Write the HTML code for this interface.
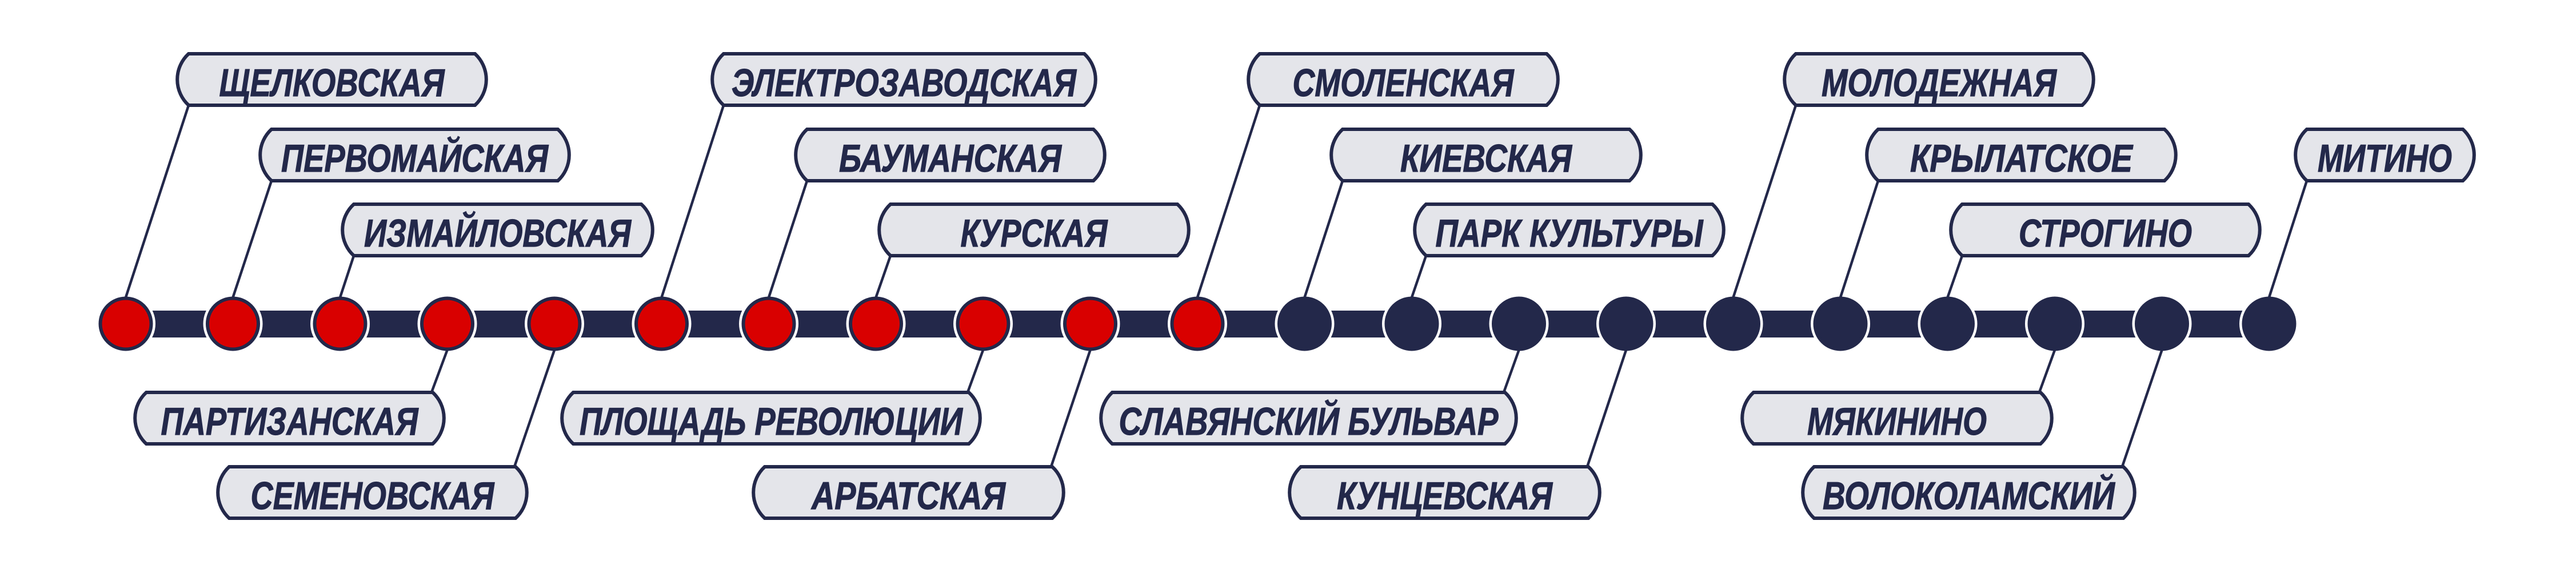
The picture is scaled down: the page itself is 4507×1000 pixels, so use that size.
<!DOCTYPE html>
<html><head><meta charset="utf-8"><style>
html,body{margin:0;padding:0;background:#fff;}
svg{display:block;}
text{font-family:"Liberation Sans",sans-serif;font-weight:bold;font-style:italic;font-size:68px;fill:#23284a;stroke:#23284a;stroke-width:1.2px;text-anchor:middle;}
</style></head><body>
<svg width="4507" height="1000" viewBox="0 0 4507 1000" xmlns="http://www.w3.org/2000/svg">
<rect x="220" y="543" width="3750" height="47" rx="4" fill="#23284a"/>
<g fill="#fff">
<circle cx="220" cy="566" r="52"/><circle cx="407.5" cy="566" r="52"/><circle cx="595" cy="566" r="52"/><circle cx="782.5" cy="566" r="52"/><circle cx="970" cy="566" r="52"/><circle cx="1157.5" cy="566" r="52"/><circle cx="1345" cy="566" r="52"/><circle cx="1532.5" cy="566" r="52"/><circle cx="1720" cy="566" r="52"/><circle cx="1907.5" cy="566" r="52"/><circle cx="2095" cy="566" r="52"/><circle cx="2282.5" cy="566" r="52"/><circle cx="2470" cy="566" r="52"/><circle cx="2657.5" cy="566" r="52"/><circle cx="2845" cy="566" r="52"/><circle cx="3032.5" cy="566" r="52"/><circle cx="3220" cy="566" r="52"/><circle cx="3407.5" cy="566" r="52"/><circle cx="3595" cy="566" r="52"/><circle cx="3782.5" cy="566" r="52"/><circle cx="3970" cy="566" r="52"/>
</g>
<g stroke="#23284a" stroke-width="4.5" fill="none">
<line x1="330" y1="184" x2="220" y2="520"/>
<line x1="475" y1="316" x2="407.5" y2="520"/>
<line x1="619" y1="447" x2="595" y2="520"/>
<line x1="782.5" y1="612" x2="755" y2="686"/>
<line x1="970" y1="612" x2="900" y2="816"/>
<line x1="1266" y1="184" x2="1157.5" y2="520"/>
<line x1="1412" y1="316" x2="1345" y2="520"/>
<line x1="1558" y1="447" x2="1532.5" y2="520"/>
<line x1="1720" y1="612" x2="1693" y2="686"/>
<line x1="1907.5" y1="612" x2="1839" y2="816"/>
<line x1="2204" y1="184" x2="2095" y2="520"/>
<line x1="2349" y1="316" x2="2282.5" y2="520"/>
<line x1="2495" y1="447" x2="2470" y2="520"/>
<line x1="2657.5" y1="612" x2="2631" y2="686"/>
<line x1="2845" y1="612" x2="2777" y2="816"/>
<line x1="3142" y1="184" x2="3032.5" y2="520"/>
<line x1="3286" y1="316" x2="3220" y2="520"/>
<line x1="3433" y1="447" x2="3407.5" y2="520"/>
<line x1="3595" y1="612" x2="3568" y2="686"/>
<line x1="3782.5" y1="612" x2="3713" y2="816"/>
<line x1="4036" y1="316" x2="3970" y2="520"/>
</g>
<g stroke="#23284a" stroke-width="6">
<g fill="#d90000">
<circle cx="220" cy="566" r="44.5"/><circle cx="407.5" cy="566" r="44.5"/><circle cx="595" cy="566" r="44.5"/><circle cx="782.5" cy="566" r="44.5"/><circle cx="970" cy="566" r="44.5"/><circle cx="1157.5" cy="566" r="44.5"/><circle cx="1345" cy="566" r="44.5"/><circle cx="1532.5" cy="566" r="44.5"/><circle cx="1720" cy="566" r="44.5"/><circle cx="1907.5" cy="566" r="44.5"/><circle cx="2095" cy="566" r="44.5"/>
</g>
<g fill="#23284a">
<circle cx="2282.5" cy="566" r="44.5"/><circle cx="2470" cy="566" r="44.5"/><circle cx="2657.5" cy="566" r="44.5"/><circle cx="2845" cy="566" r="44.5"/><circle cx="3032.5" cy="566" r="44.5"/><circle cx="3220" cy="566" r="44.5"/><circle cx="3407.5" cy="566" r="44.5"/><circle cx="3595" cy="566" r="44.5"/><circle cx="3782.5" cy="566" r="44.5"/><circle cx="3970" cy="566" r="44.5"/>
</g>
</g>
<g fill="#e4e5ea" stroke="#23284a" stroke-width="6">
<path d="M330 94H831A61 61 0 0 1 831 184H330A61 61 0 0 1 330 94Z"/>
<path d="M475 226H976A61 61 0 0 1 976 316H475A61 61 0 0 1 475 226Z"/>
<path d="M619 357H1122A61 61 0 0 1 1122 447H619A61 61 0 0 1 619 357Z"/>
<path d="M256 686H757A61 61 0 0 1 757 776H256A61 61 0 0 1 256 686Z"/>
<path d="M401 816H902A61 61 0 0 1 902 906H401A61 61 0 0 1 401 816Z"/>
<path d="M1266 94H1897A61 61 0 0 1 1897 184H1266A61 61 0 0 1 1266 94Z"/>
<path d="M1412 226H1913A61 61 0 0 1 1913 316H1412A61 61 0 0 1 1412 226Z"/>
<path d="M1558 357H2060A61 61 0 0 1 2060 447H1558A61 61 0 0 1 1558 357Z"/>
<path d="M1003 686H1695A61 61 0 0 1 1695 776H1003A61 61 0 0 1 1003 686Z"/>
<path d="M1338 816H1841A61 61 0 0 1 1841 906H1338A61 61 0 0 1 1338 816Z"/>
<path d="M2204 94H2706A61 61 0 0 1 2706 184H2204A61 61 0 0 1 2204 94Z"/>
<path d="M2349 226H2851A61 61 0 0 1 2851 316H2349A61 61 0 0 1 2349 226Z"/>
<path d="M2495 357H2996A61 61 0 0 1 2996 447H2495A61 61 0 0 1 2495 357Z"/>
<path d="M1946 686H2633A61 61 0 0 1 2633 776H1946A61 61 0 0 1 1946 686Z"/>
<path d="M2276 816H2779A61 61 0 0 1 2779 906H2276A61 61 0 0 1 2276 816Z"/>
<path d="M3142 94H3643A61 61 0 0 1 3643 184H3142A61 61 0 0 1 3142 94Z"/>
<path d="M3286 226H3787A61 61 0 0 1 3787 316H3286A61 61 0 0 1 3286 226Z"/>
<path d="M3433 357H3934A61 61 0 0 1 3934 447H3433A61 61 0 0 1 3433 357Z"/>
<path d="M3068 686H3570A61 61 0 0 1 3570 776H3068A61 61 0 0 1 3068 686Z"/>
<path d="M3174 816H3715A61 61 0 0 1 3715 906H3174A61 61 0 0 1 3174 816Z"/>
<path d="M4036 226H4309A61 61 0 0 1 4309 316H4036A61 61 0 0 1 4036 226Z"/>
</g>
<g>
<text x="580.5" y="168" textLength="394" lengthAdjust="spacingAndGlyphs">ЩЕЛКОВСКАЯ</text>
<text x="725.5" y="300" textLength="467" lengthAdjust="spacingAndGlyphs">ПЕРВОМАЙСКАЯ</text>
<text x="870.5" y="431" textLength="467" lengthAdjust="spacingAndGlyphs">ИЗМАЙЛОВСКАЯ</text>
<text x="506.5" y="760" textLength="450" lengthAdjust="spacingAndGlyphs">ПАРТИЗАНСКАЯ</text>
<text x="651.5" y="890" textLength="426" lengthAdjust="spacingAndGlyphs">СЕМЕНОВСКАЯ</text>
<text x="1581.5" y="168" textLength="603" lengthAdjust="spacingAndGlyphs">ЭЛЕКТРОЗАВОДСКАЯ</text>
<text x="1662.5" y="300" textLength="389" lengthAdjust="spacingAndGlyphs">БАУМАНСКАЯ</text>
<text x="1809" y="431" textLength="257" lengthAdjust="spacingAndGlyphs">КУРСКАЯ</text>
<text x="1349" y="760" textLength="670" lengthAdjust="spacingAndGlyphs">ПЛОЩАДЬ РЕВОЛЮЦИИ</text>
<text x="1589.5" y="890" textLength="339" lengthAdjust="spacingAndGlyphs">АРБАТСКАЯ</text>
<text x="2455" y="168" textLength="387" lengthAdjust="spacingAndGlyphs">СМОЛЕНСКАЯ</text>
<text x="2600" y="300" textLength="300" lengthAdjust="spacingAndGlyphs">КИЕВСКАЯ</text>
<text x="2745.5" y="431" textLength="468" lengthAdjust="spacingAndGlyphs">ПАРК КУЛЬТУРЫ</text>
<text x="2289.5" y="760" textLength="664" lengthAdjust="spacingAndGlyphs">СЛАВЯНСКИЙ БУЛЬВАР</text>
<text x="2527.5" y="890" textLength="377" lengthAdjust="spacingAndGlyphs">КУНЦЕВСКАЯ</text>
<text x="3392.5" y="168" textLength="411" lengthAdjust="spacingAndGlyphs">МОЛОДЕЖНАЯ</text>
<text x="3536.5" y="300" textLength="389" lengthAdjust="spacingAndGlyphs">КРЫЛАТСКОЕ</text>
<text x="3683.5" y="431" textLength="303" lengthAdjust="spacingAndGlyphs">СТРОГИНО</text>
<text x="3319" y="760" textLength="314" lengthAdjust="spacingAndGlyphs">МЯКИНИНО</text>
<text x="3444.5" y="890" textLength="511" lengthAdjust="spacingAndGlyphs">ВОЛОКОЛАМСКИЙ</text>
<text x="4172.5" y="300" textLength="235" lengthAdjust="spacingAndGlyphs">МИТИНО</text>
</g>
</svg>
</body></html>
